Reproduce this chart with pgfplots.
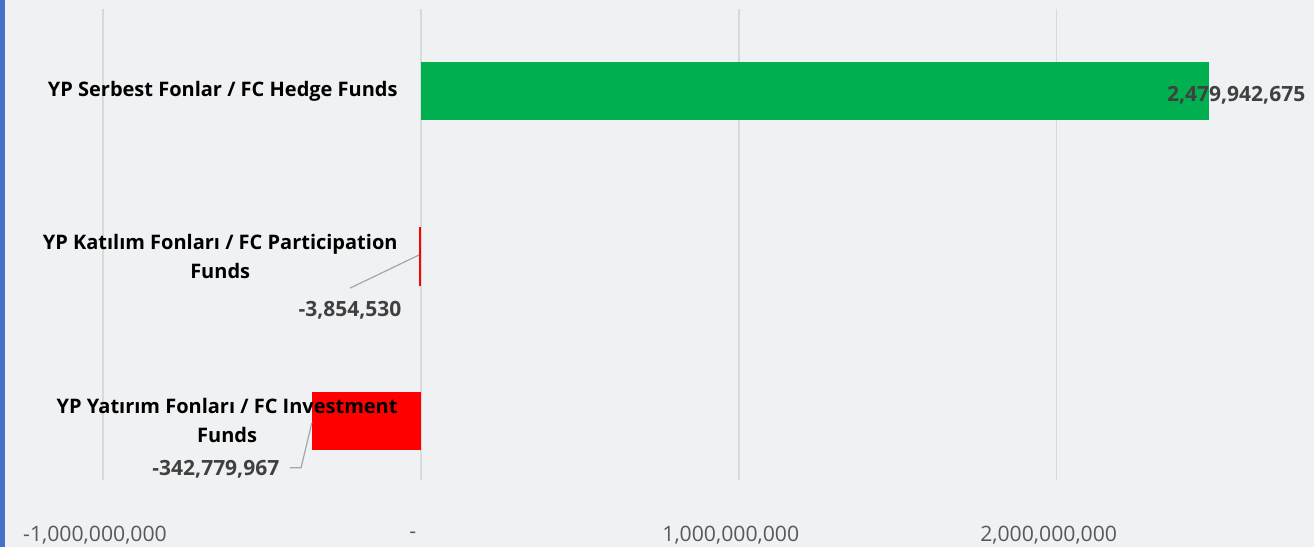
\documentclass[border=0pt]{standalone}
\usepackage{fontspec}
\setmainfont{Open Sans}
\usepackage{pgfplots}
\pgfplotsset{compat=1.18}
\definecolor{bg}{HTML}{F0F1F3}
\definecolor{stripblue}{HTML}{4472C4}
\definecolor{gridgray}{HTML}{D9D9D9}
\definecolor{ticktext}{HTML}{595959}
\definecolor{labelgray}{HTML}{404040}
\definecolor{leadergray}{HTML}{A6A6A6}
\definecolor{hedgegreen}{HTML}{00B050}
\definecolor{lossred}{HTML}{FF0000}

\begin{document}
\begin{tikzpicture}
% background panel (1px = 0.5pt)
\fill[bg] (0,0) rectangle (657pt,273.5pt);
\fill[stripblue] (0,0) rectangle (2.5pt,273.5pt);

\begin{axis}[
  at={(51.5pt,33.5pt)}, anchor=south west,
  scale only axis,
  width=604pt, height=235.5pt,
  xbar, bar width=29pt, bar shift=0pt,
  xmin=-1e9, xmax=2.8e9,
  ymin=-0.36, ymax=2.5,
  scaled x ticks=false,
  xtick={-1e9,0,1e9,2e9},
  xticklabels={{-1,000,000,000},{-\hspace{13pt}},{1,000,000,000},{2,000,000,000}},
  ytick={0,1,2},
  yticklabels={},
  xmajorgrids=true,
  major grid style={draw=gridgray, line width=0.75pt},
  axis line style={draw=none},
  tick style={draw=none},
  xticklabel style={font=\fontsize{10.6}{12}\selectfont, text=ticktext,
    anchor=center, yshift=-27.5pt, xshift=-4pt},
  clip=false,
]
\addplot[fill=hedgegreen, draw=none] coordinates {(2479942675,2)};
\addplot[fill=lossred, draw=lossred, line width=0.4pt] coordinates {(-3854530,1)};
\addplot[fill=lossred, draw=none] coordinates {(-342779967,0)};

% category names, drawn after the bars so they sit on top
\tikzset{catlabel/.style={font=\bfseries\fontsize{10}{14.5}\selectfont,
    align=center, anchor=east, inner sep=0pt}}
\node[catlabel] at (axis cs:-0.072e9,2) {YP Serbest Fonlar / FC Hedge Funds};
\node[catlabel] at (axis cs:-0.072e9,1) {YP Katılım Fonları / FC Participation\\Funds};
\node[catlabel] at (axis cs:-0.072e9,0) {YP Yatırım Fonları / FC Investment\\Funds};

% leader lines
\draw[leadergray, line width=0.6pt] (axis cs:-0.223e9,0.805) -- (axis cs:-0.006e9,1.006);
\draw[leadergray, line width=0.6pt] (axis cs:-0.412e9,-0.286) -- (axis cs:-0.377e9,-0.286) -- (axis cs:-0.343e9,-0.012);

% data labels
\tikzset{dlabel/.style={font=\bfseries\fontsize{10.5}{12}\selectfont, text=labelgray, inner sep=0pt}}
\node[dlabel, anchor=west] at (axis cs:2.346e9,1.976) {2,479,942,675};
\node[dlabel] at (axis cs:-0.223e9,0.672) {-3,854,530};
\node[dlabel] at (axis cs:-0.645e9,-0.292) {-342,779,967};
\end{axis}
\pgfresetboundingbox
\path (0,0) rectangle (657pt,273.5pt);
\end{tikzpicture}
\end{document}
